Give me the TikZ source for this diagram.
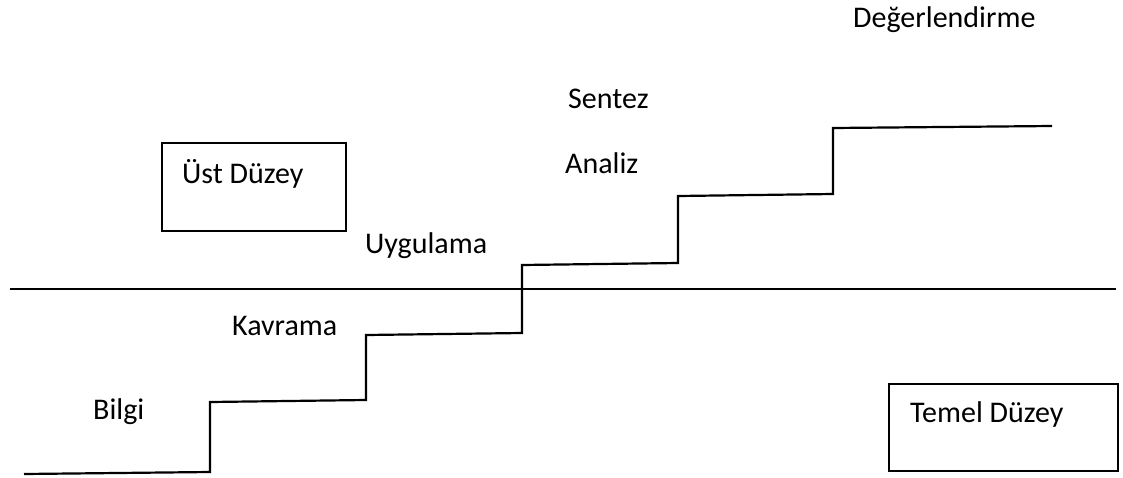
\documentclass[tikz,border=0pt]{standalone}
\usepackage{fontspec}
\setmainfont{Carlito}
\begin{document}
\begin{tikzpicture}[x=1pt,y=-1pt,
  lbl/.style={anchor=base west,inner sep=0pt,font=\fontsize{30}{36}\selectfont},
  levelbox/.style={draw,line width=1.8pt,inner sep=0pt},
  stair/.style={draw,line width=2.2pt,line join=miter},
  divider/.style={draw,line width=1.8pt}]
\useasboundingbox (0,0) rectangle (1123,477);
% staircase
\draw[stair] (24,474) -- (210,472) -- (210,402) -- (366,400) -- (366,335)
  -- (522,333) -- (522,265) -- (678,263) -- (678,196) -- (833,194)
  -- (833,128) -- (1052,126);
% divider
\coordinate (dl) at (10,289);
\coordinate (dr) at (1116,289);
\draw[divider] (dl) -- (dr);
% boxes
\node[levelbox,minimum width=184pt,minimum height=88pt,anchor=north west] (ust) at (161,142) {};
\node[levelbox,minimum width=229pt,minimum height=87pt,anchor=north west] (temel) at (888,383) {};
\node[lbl] (ustt) at (182,183) {Üst Düzey};
\node[lbl] (temelt) at (910,422) {Temel Düzey};
% levels
\node[lbl] (bilgi) at (93,419) {Bilgi};
\node[lbl] (kavrama) at (232,335) {Kavrama};
\node[lbl] (uyg) at (365,253) {Uygulama};
\node[lbl] (analiz) at (565,173) {Analiz};
\node[lbl] (sentez) at (568,108) {Sentez};
\node[lbl] (deg) at (853,27) {Değerlendirme};
\end{tikzpicture}
\end{document}
